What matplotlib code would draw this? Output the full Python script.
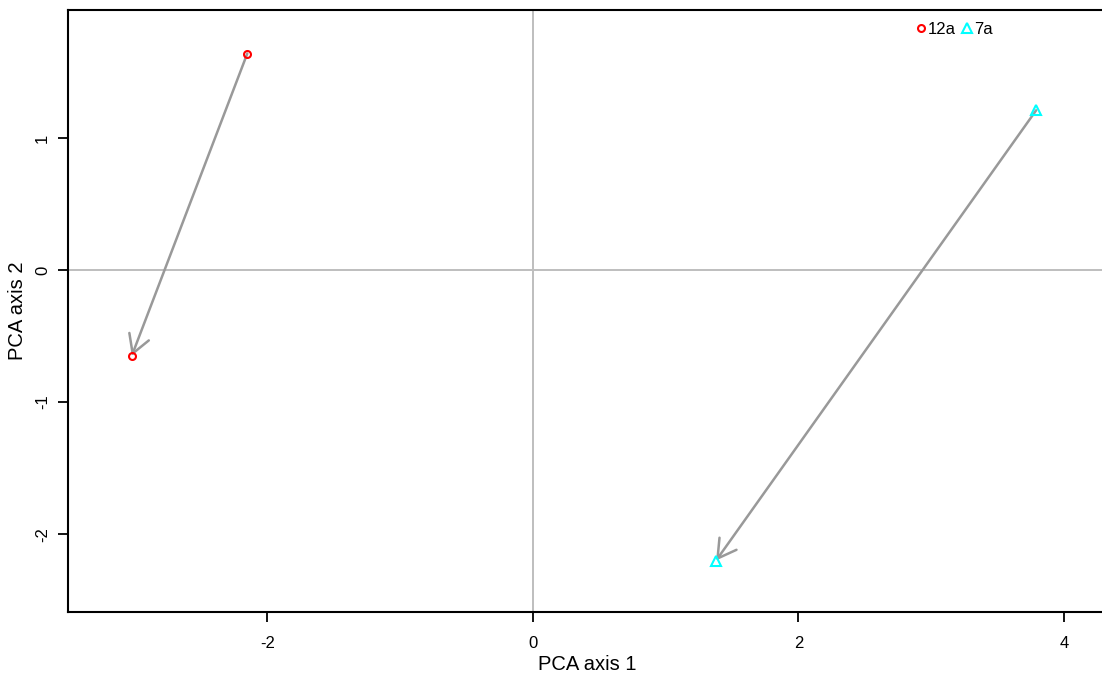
import matplotlib
matplotlib.use("Agg")
import matplotlib.pyplot as plt
from matplotlib.lines import Line2D

plt.rcParams['font.family'] = ['Liberation Sans', 'DejaVu Sans']

# PCA scores: start (before) and end (after) for each sample
labels = ["12a", "7a"]
x_start = [-2.15, 3.79]
y_start = [1.64, 1.21]
x_end = [-3.02, 1.38]
y_end = [-0.65, -2.20]
colors = ["red", "cyan"]
markers = ["o", "^"]
msizes = [5, 6.5]

W, H = 1102, 682
fig = plt.figure(figsize=(W / 100, H / 100), dpi=100)
# axes region in pixels (right edge runs a little past the figure)
left, right, top, bottom = 68, 1106, 10, 612
ax = fig.add_axes([left / W, (H - bottom) / H, (right - left) / W, (bottom - top) / H])

ax.set_xlim(-3.5, 4.316)
ax.set_ylim(-2.59, 1.97)

ax.axhline(0, color="#bebebe", lw=1.4, zorder=1)
ax.axvline(0, color="#bebebe", lw=1.4, zorder=1)

for i in range(len(labels)):
    ax.annotate("", xy=(x_end[i], y_end[i]), xytext=(x_start[i], y_start[i]),
                arrowprops=dict(arrowstyle="->,head_length=1.3,head_width=0.75",
                                color="#999999", lw=1.8, shrinkA=0, shrinkB=0),
                zorder=2)
    ax.plot([x_start[i], x_end[i]], [y_start[i], y_end[i]], linestyle="none",
            marker=markers[i], markersize=msizes[i], markerfacecolor="none",
            markeredgecolor=colors[i], markeredgewidth=1.5, zorder=3)

handles = [Line2D([], [], linestyle="none", marker=markers[i], markersize=msizes[i],
                  markerfacecolor="none", markeredgecolor=colors[i],
                  markeredgewidth=1.5) for i in range(len(labels))]
ax.legend(handles, labels, ncol=2, frameon=False, loc="center left",
          bbox_to_anchor=(908 / W, (H - 29) / H), bbox_transform=fig.transFigure,
          handlelength=0.55, handletextpad=0.15, columnspacing=0.4,
          borderpad=0, fontsize=12)

ax.set_xticks([-2, 0, 2, 4])
ax.set_yticks([-2, -1, 0, 1])
ax.set_xticklabels(["-2", "0", "2", "4"])
ax.set_yticklabels(["-2", "-1", "0", "1"], rotation=90, va="center")
ax.tick_params(direction="out", length=7, width=1.3, labelsize=12)
ax.tick_params(axis="x", pad=10)
ax.tick_params(axis="y", pad=6)

for s in ["left", "bottom", "top"]:
    ax.spines[s].set_linewidth(1.5)
ax.spines["right"].set_visible(False)

ax.set_xlabel("PCA axis 1", fontsize=14.5, labelpad=3)
ax.set_ylabel("PCA axis 2", fontsize=14.5, labelpad=6)

fig.savefig("out.png", dpi=100)
